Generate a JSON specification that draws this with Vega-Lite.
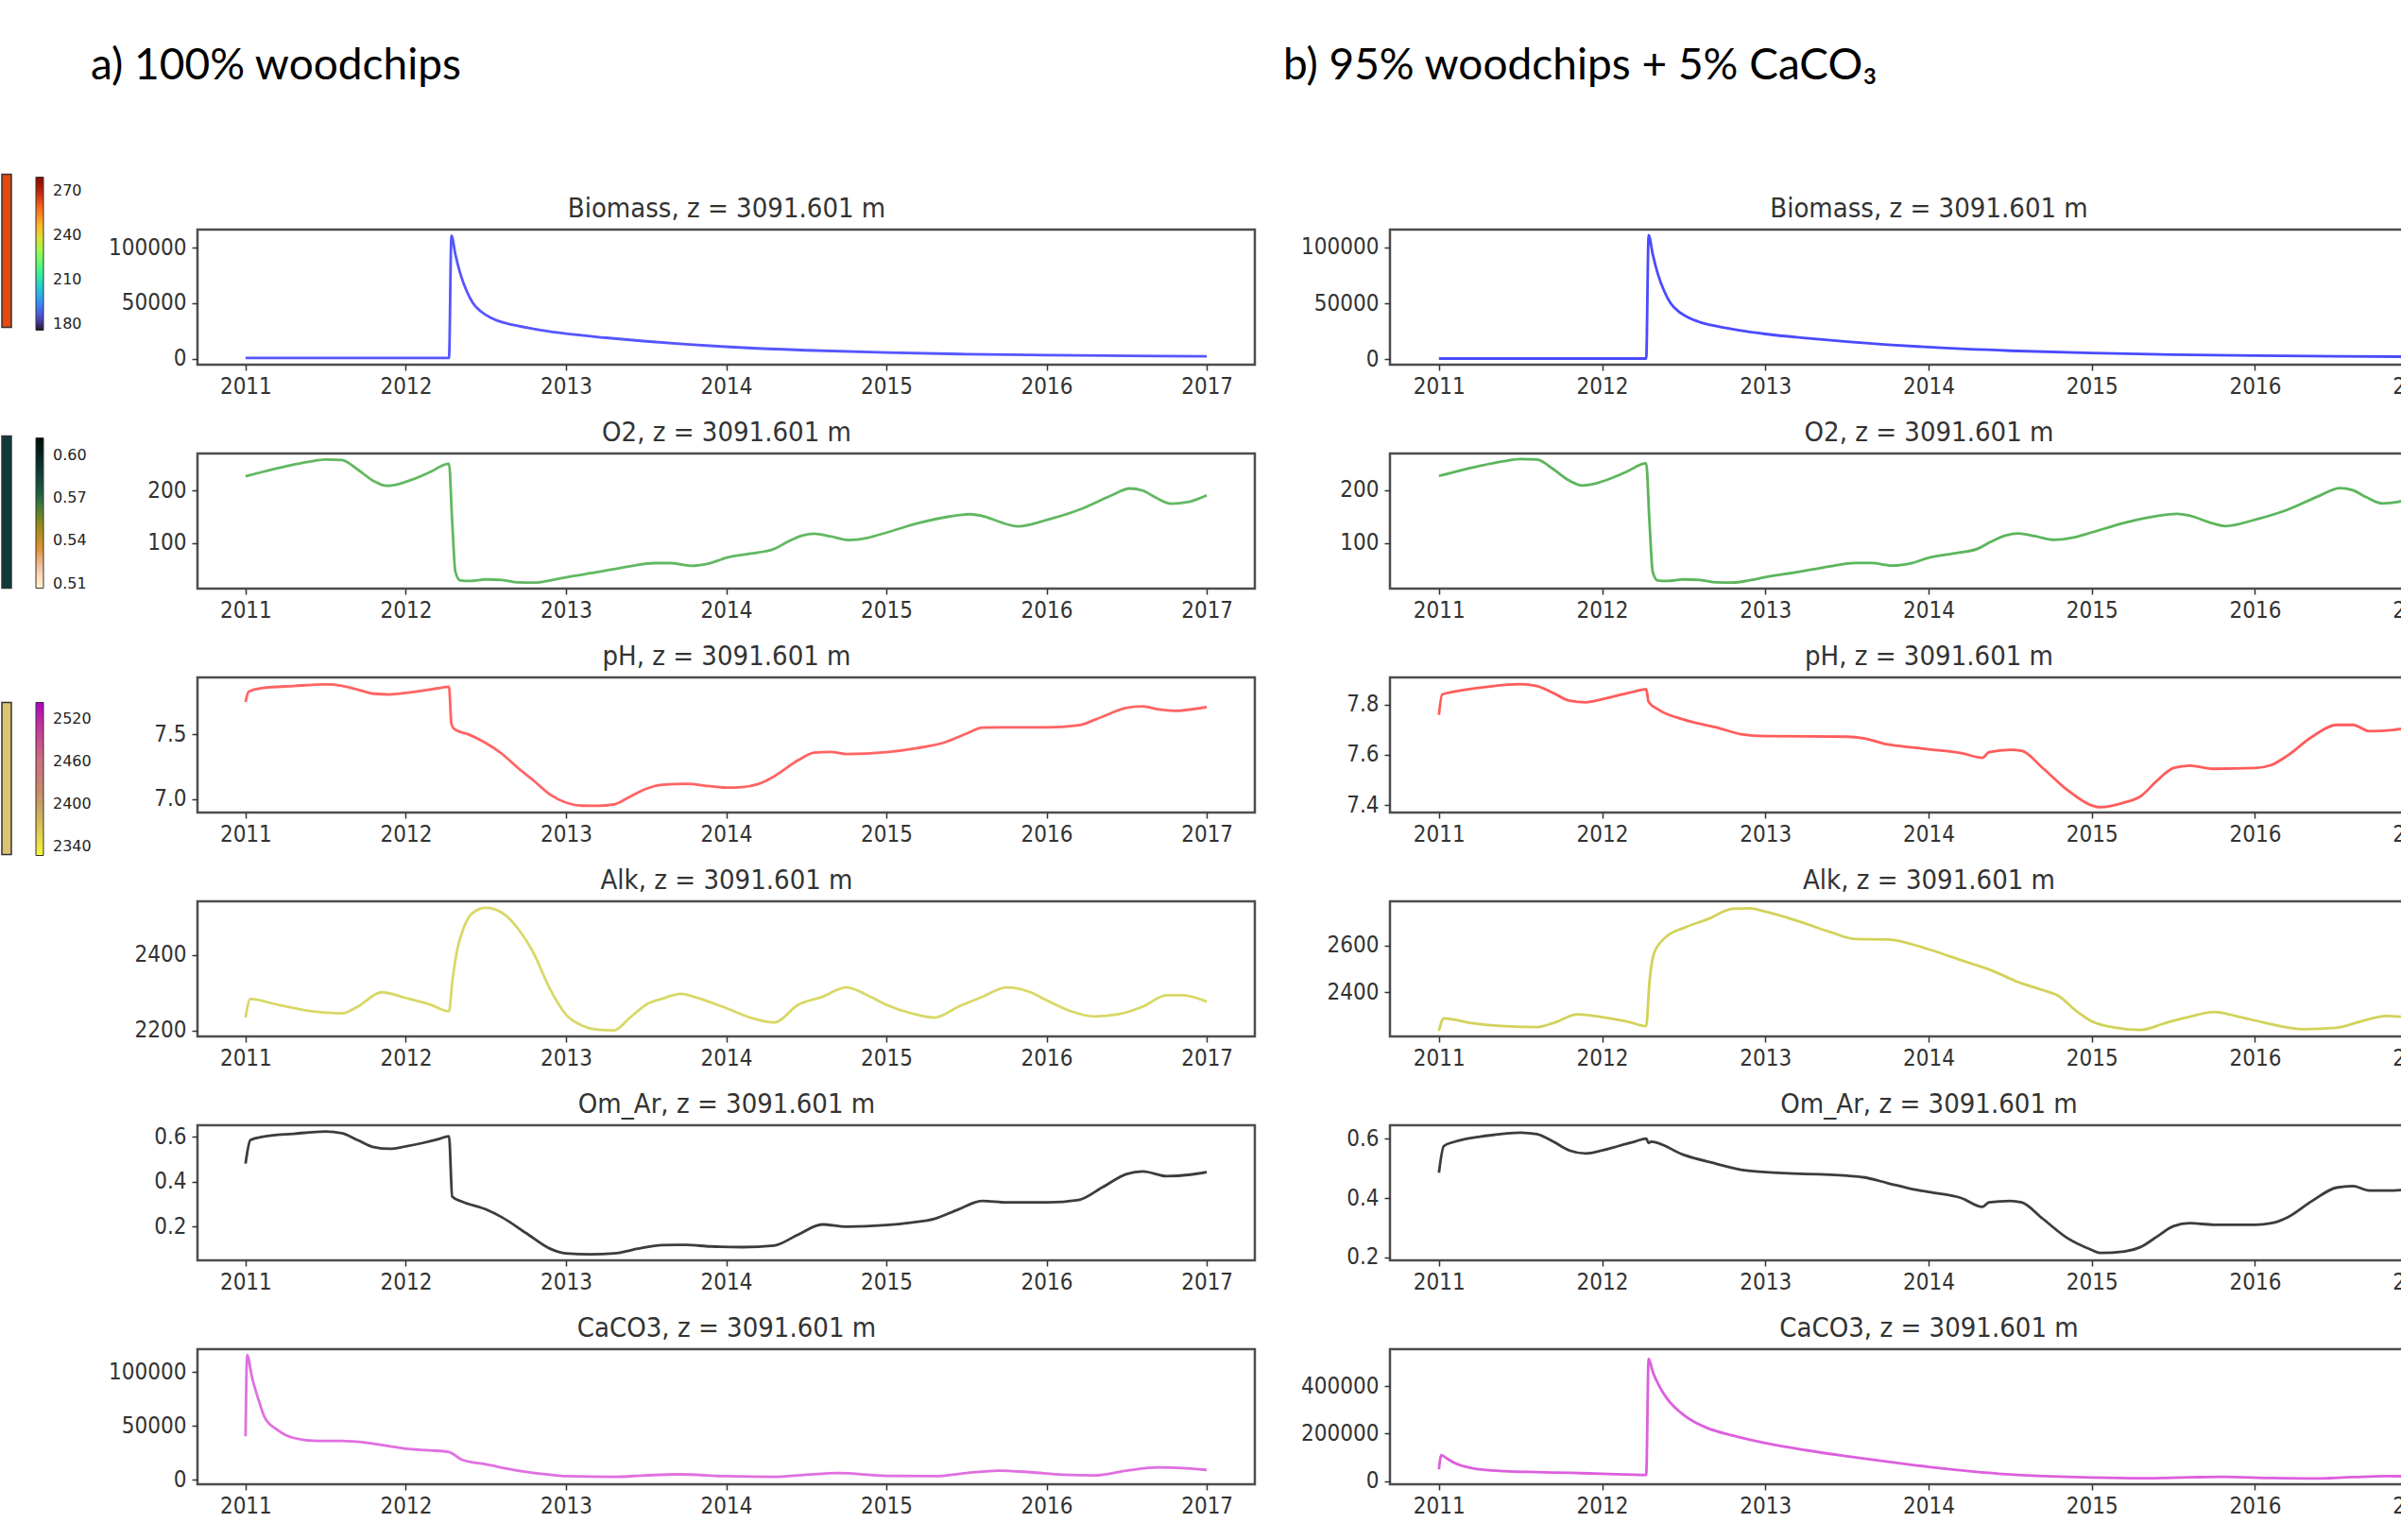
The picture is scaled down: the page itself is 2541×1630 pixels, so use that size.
{
"$schema": "https://vega.github.io/schema/vega-lite/v6.json",
"padding": {"left": 0, "top": 45, "right": 0, "bottom": 0},
"background": "white",
"columns": 2,
"spacing": {"row": 94, "column": 122},
"bounds": "flush",
"align": "all",
"config": {
  "view": {"stroke": "#4d4d4d", "strokeWidth": 2.5},
  "axis": {"labelFont": "DejaVu Sans Condensed, Liberation Sans", "labelFontSize": 24, "labelColor": "#333333", "tickColor": "#333333", "tickSize": 6, "tickWidth": 1.5, "domain": false, "grid": false, "labelPadding": 5},
  "axisX": {"titleFont": "DejaVu Sans Condensed, Liberation Sans", "titleFontSize": 29, "titleFontWeight": "normal", "titleColor": "#333333", "titleY": -157, "titleBaseline": "alphabetic"},
  "axisY": {"labelPadding": 6},
  "title": {"fontWeight": "normal", "anchor": "start", "frame": "group", "baseline": "alphabetic", "dx": -113, "offset": 112, "font": "Lato, DejaVu Sans", "fontSize": 46, "color": "#000000"},
  "line": {"strokeWidth": 2.8, "interpolate": "monotone"}
},
"datasets": {
  "bio": [{"t":2011.0,"v":500},{"t":2012.27,"v":500},{"t":2012.285,"v":111000},{"t":2012.31,"v":94000},{"t":2012.34,"v":77000},{"t":2012.38,"v":61000},{"t":2012.42,"v":50000},{"t":2012.47,"v":42500},{"t":2012.53,"v":37000},{"t":2012.6,"v":33000},{"t":2012.7,"v":29500},{"t":2012.85,"v":25500},{"t":2013.0,"v":22500},{"t":2013.25,"v":18800},{"t":2013.5,"v":15600},{"t":2013.75,"v":12900},{"t":2014.0,"v":10700},{"t":2014.5,"v":7500},{"t":2015.0,"v":5400},{"t":2015.5,"v":4000},{"t":2016.0,"v":3100},{"t":2016.5,"v":2500},{"t":2017.0,"v":2100}],
  "o2": [{"t":2011.0,"v":227},{"t":2011.1,"v":235},{"t":2011.25,"v":246},{"t":2011.4,"v":255},{"t":2011.5,"v":259},{"t":2011.6,"v":258},{"t":2011.7,"v":240},{"t":2011.8,"v":218},{"t":2011.88,"v":209},{"t":2011.95,"v":212},{"t":2012.05,"v":222},{"t":2012.15,"v":235},{"t":2012.27,"v":251},{"t":2012.29,"v":140},{"t":2012.31,"v":45},{"t":2012.34,"v":29},{"t":2012.4,"v":28},{"t":2012.5,"v":31},{"t":2012.6,"v":30},{"t":2012.7,"v":25.5},{"t":2012.8,"v":25},{"t":2012.9,"v":29},{"t":2013.0,"v":35},{"t":2013.2,"v":45},{"t":2013.4,"v":56},{"t":2013.55,"v":62},{"t":2013.65,"v":62},{"t":2013.78,"v":57},{"t":2013.9,"v":62},{"t":2014.0,"v":72},{"t":2014.15,"v":80},{"t":2014.3,"v":89},{"t":2014.38,"v":102},{"t":2014.47,"v":114},{"t":2014.55,"v":118},{"t":2014.65,"v":113},{"t":2014.77,"v":106},{"t":2014.88,"v":110},{"t":2015.0,"v":120},{"t":2015.2,"v":138},{"t":2015.4,"v":151},{"t":2015.52,"v":155},{"t":2015.62,"v":150},{"t":2015.72,"v":139},{"t":2015.82,"v":132},{"t":2016.0,"v":144},{"t":2016.2,"v":163},{"t":2016.4,"v":190},{"t":2016.52,"v":204},{"t":2016.6,"v":200},{"t":2016.68,"v":187},{"t":2016.78,"v":175},{"t":2016.88,"v":178},{"t":2017.0,"v":191}],
  "ph_a": [{"t":2011.0,"v":7.75},{"t":2011.02,"v":7.83},{"t":2011.1,"v":7.857},{"t":2011.3,"v":7.874},{"t":2011.5,"v":7.886},{"t":2011.6,"v":7.876},{"t":2011.7,"v":7.846},{"t":2011.8,"v":7.814},{"t":2011.9,"v":7.808},{"t":2012.0,"v":7.82},{"t":2012.1,"v":7.837},{"t":2012.2,"v":7.856},{"t":2012.27,"v":7.868},{"t":2012.285,"v":7.58},{"t":2012.3,"v":7.545},{"t":2012.4,"v":7.495},{"t":2012.5,"v":7.432},{"t":2012.6,"v":7.35},{"t":2012.7,"v":7.24},{"t":2012.8,"v":7.14},{"t":2012.9,"v":7.035},{"t":2013.0,"v":6.972},{"t":2013.1,"v":6.948},{"t":2013.2,"v":6.947},{"t":2013.3,"v":6.958},{"t":2013.4,"v":7.018},{"t":2013.5,"v":7.078},{"t":2013.6,"v":7.11},{"t":2013.75,"v":7.117},{"t":2013.9,"v":7.098},{"t":2014.0,"v":7.088},{"t":2014.1,"v":7.092},{"t":2014.2,"v":7.115},{"t":2014.3,"v":7.175},{"t":2014.45,"v":7.3},{"t":2014.55,"v":7.358},{"t":2014.65,"v":7.364},{"t":2014.75,"v":7.347},{"t":2015.0,"v":7.362},{"t":2015.2,"v":7.395},{"t":2015.35,"v":7.432},{"t":2015.5,"v":7.505},{"t":2015.6,"v":7.552},{"t":2015.7,"v":7.554},{"t":2016.0,"v":7.553},{"t":2016.2,"v":7.57},{"t":2016.35,"v":7.637},{"t":2016.5,"v":7.705},{"t":2016.6,"v":7.716},{"t":2016.7,"v":7.692},{"t":2016.8,"v":7.682},{"t":2017.0,"v":7.711}],
  "ph_b": [{"t":2011.0,"v":7.759},{"t":2011.02,"v":7.84},{"t":2011.1,"v":7.852},{"t":2011.3,"v":7.871},{"t":2011.5,"v":7.881},{"t":2011.6,"v":7.874},{"t":2011.7,"v":7.846},{"t":2011.8,"v":7.815},{"t":2011.9,"v":7.809},{"t":2012.0,"v":7.821},{"t":2012.1,"v":7.837},{"t":2012.2,"v":7.852},{"t":2012.27,"v":7.861},{"t":2012.285,"v":7.81},{"t":2012.35,"v":7.778},{"t":2012.5,"v":7.74},{"t":2012.7,"v":7.709},{"t":2012.85,"v":7.682},{"t":2013.0,"v":7.674},{"t":2013.5,"v":7.672},{"t":2013.6,"v":7.666},{"t":2013.75,"v":7.641},{"t":2013.9,"v":7.629},{"t":2014.0,"v":7.622},{"t":2014.2,"v":7.607},{"t":2014.33,"v":7.588},{"t":2014.37,"v":7.61},{"t":2014.5,"v":7.62},{"t":2014.57,"v":7.616},{"t":2014.7,"v":7.547},{"t":2014.85,"v":7.46},{"t":2015.0,"v":7.398},{"t":2015.05,"v":7.391},{"t":2015.2,"v":7.41},{"t":2015.3,"v":7.435},{"t":2015.4,"v":7.497},{"t":2015.5,"v":7.547},{"t":2015.6,"v":7.557},{"t":2015.75,"v":7.544},{"t":2016.0,"v":7.547},{"t":2016.1,"v":7.559},{"t":2016.2,"v":7.597},{"t":2016.35,"v":7.672},{"t":2016.5,"v":7.719},{"t":2016.6,"v":7.719},{"t":2016.7,"v":7.694},{"t":2016.85,"v":7.699},{"t":2017.0,"v":7.715}],
  "alk_a": [{"t":2011.0,"v":2234},{"t":2011.03,"v":2283},{"t":2011.2,"v":2268},{"t":2011.4,"v":2251},{"t":2011.6,"v":2245},{"t":2011.7,"v":2263},{"t":2011.85,"v":2301},{"t":2012.0,"v":2286},{"t":2012.15,"v":2269},{"t":2012.27,"v":2251},{"t":2012.29,"v":2327},{"t":2012.32,"v":2411},{"t":2012.36,"v":2470},{"t":2012.42,"v":2512},{"t":2012.5,"v":2525},{"t":2012.6,"v":2512},{"t":2012.7,"v":2470},{"t":2012.8,"v":2403},{"t":2012.9,"v":2310},{"t":2013.0,"v":2242},{"t":2013.1,"v":2213},{"t":2013.2,"v":2202},{"t":2013.3,"v":2200},{"t":2013.4,"v":2234},{"t":2013.5,"v":2268},{"t":2013.6,"v":2284},{"t":2013.72,"v":2297},{"t":2013.8,"v":2289},{"t":2014.0,"v":2259},{"t":2014.15,"v":2234},{"t":2014.3,"v":2221},{"t":2014.45,"v":2268},{"t":2014.6,"v":2289},{"t":2014.75,"v":2314},{"t":2014.9,"v":2289},{"t":2015.0,"v":2268},{"t":2015.15,"v":2246},{"t":2015.3,"v":2234},{"t":2015.45,"v":2263},{"t":2015.6,"v":2289},{"t":2015.75,"v":2314},{"t":2015.9,"v":2301},{"t":2016.0,"v":2280},{"t":2016.15,"v":2251},{"t":2016.3,"v":2237},{"t":2016.45,"v":2243},{"t":2016.6,"v":2263},{"t":2016.75,"v":2293},{"t":2016.85,"v":2293},{"t":2017.0,"v":2276}],
  "alk_b": [{"t":2011.0,"v":2236},{"t":2011.03,"v":2289},{"t":2011.2,"v":2269},{"t":2011.4,"v":2256},{"t":2011.6,"v":2252},{"t":2011.7,"v":2269},{"t":2011.85,"v":2306},{"t":2012.0,"v":2294},{"t":2012.15,"v":2276},{"t":2012.27,"v":2256},{"t":2012.29,"v":2443},{"t":2012.32,"v":2570},{"t":2012.4,"v":2640},{"t":2012.5,"v":2674},{"t":2012.65,"v":2712},{"t":2012.8,"v":2755},{"t":2012.9,"v":2757},{"t":2013.0,"v":2743},{"t":2013.2,"v":2703},{"t":2013.4,"v":2656},{"t":2013.55,"v":2627},{"t":2013.75,"v":2625},{"t":2014.0,"v":2583},{"t":2014.2,"v":2536},{"t":2014.4,"v":2489},{"t":2014.55,"v":2443},{"t":2014.7,"v":2409},{"t":2014.8,"v":2383},{"t":2014.9,"v":2323},{"t":2015.0,"v":2276},{"t":2015.15,"v":2249},{"t":2015.3,"v":2240},{"t":2015.45,"v":2269},{"t":2015.6,"v":2296},{"t":2015.75,"v":2316},{"t":2015.9,"v":2296},{"t":2016.05,"v":2272},{"t":2016.3,"v":2243},{"t":2016.5,"v":2249},{"t":2016.65,"v":2276},{"t":2016.8,"v":2299},{"t":2016.9,"v":2296},{"t":2017.0,"v":2289}],
  "om_a": [{"t":2011.0,"v":0.481},{"t":2011.03,"v":0.586},{"t":2011.1,"v":0.6},{"t":2011.3,"v":0.614},{"t":2011.5,"v":0.624},{"t":2011.6,"v":0.617},{"t":2011.7,"v":0.586},{"t":2011.8,"v":0.555},{"t":2011.9,"v":0.547},{"t":2012.0,"v":0.558},{"t":2012.1,"v":0.572},{"t":2012.2,"v":0.589},{"t":2012.27,"v":0.603},{"t":2012.29,"v":0.334},{"t":2012.35,"v":0.312},{"t":2012.5,"v":0.277},{"t":2012.6,"v":0.242},{"t":2012.75,"v":0.172},{"t":2012.9,"v":0.102},{"t":2013.0,"v":0.081},{"t":2013.15,"v":0.077},{"t":2013.3,"v":0.081},{"t":2013.45,"v":0.102},{"t":2013.6,"v":0.118},{"t":2013.75,"v":0.119},{"t":2013.9,"v":0.112},{"t":2014.1,"v":0.109},{"t":2014.3,"v":0.116},{"t":2014.45,"v":0.165},{"t":2014.6,"v":0.21},{"t":2014.75,"v":0.2},{"t":2015.0,"v":0.207},{"t":2015.15,"v":0.218},{"t":2015.3,"v":0.235},{"t":2015.45,"v":0.277},{"t":2015.6,"v":0.315},{"t":2015.75,"v":0.308},{"t":2016.0,"v":0.308},{"t":2016.2,"v":0.319},{"t":2016.35,"v":0.376},{"t":2016.5,"v":0.435},{"t":2016.6,"v":0.446},{"t":2016.75,"v":0.425},{"t":2016.9,"v":0.432},{"t":2017.0,"v":0.443}],
  "om_b": [{"t":2011.0,"v":0.485},{"t":2011.03,"v":0.575},{"t":2011.1,"v":0.59},{"t":2011.3,"v":0.61},{"t":2011.5,"v":0.62},{"t":2011.6,"v":0.615},{"t":2011.7,"v":0.59},{"t":2011.8,"v":0.56},{"t":2011.9,"v":0.55},{"t":2012.0,"v":0.56},{"t":2012.1,"v":0.575},{"t":2012.2,"v":0.59},{"t":2012.27,"v":0.6},{"t":2012.285,"v":0.585},{"t":2012.3,"v":0.59},{"t":2012.5,"v":0.545},{"t":2012.7,"v":0.515},{"t":2012.85,"v":0.495},{"t":2013.0,"v":0.487},{"t":2013.5,"v":0.475},{"t":2013.6,"v":0.47},{"t":2013.75,"v":0.45},{"t":2013.9,"v":0.43},{"t":2014.0,"v":0.42},{"t":2014.2,"v":0.4},{"t":2014.33,"v":0.37},{"t":2014.37,"v":0.385},{"t":2014.5,"v":0.39},{"t":2014.57,"v":0.385},{"t":2014.7,"v":0.33},{"t":2014.85,"v":0.265},{"t":2015.0,"v":0.225},{"t":2015.05,"v":0.215},{"t":2015.2,"v":0.22},{"t":2015.3,"v":0.235},{"t":2015.4,"v":0.27},{"t":2015.5,"v":0.305},{"t":2015.6,"v":0.315},{"t":2015.75,"v":0.31},{"t":2016.0,"v":0.31},{"t":2016.1,"v":0.315},{"t":2016.2,"v":0.335},{"t":2016.35,"v":0.39},{"t":2016.5,"v":0.435},{"t":2016.6,"v":0.44},{"t":2016.7,"v":0.425},{"t":2016.85,"v":0.425},{"t":2017.0,"v":0.435}],
  "ca_a": [{"t":2011.0,"v":40600},{"t":2011.01,"v":116000},{"t":2011.04,"v":95600},{"t":2011.08,"v":75000},{"t":2011.12,"v":58000},{"t":2011.2,"v":46400},{"t":2011.3,"v":39000},{"t":2011.45,"v":36200},{"t":2011.6,"v":36200},{"t":2011.75,"v":34800},{"t":2011.9,"v":31300},{"t":2012.0,"v":29000},{"t":2012.15,"v":27500},{"t":2012.27,"v":26000},{"t":2012.35,"v":18800},{"t":2012.5,"v":14500},{"t":2012.7,"v":8700},{"t":2012.9,"v":4900},{"t":2013.0,"v":3500},{"t":2013.3,"v":2900},{"t":2013.5,"v":4300},{"t":2013.7,"v":5200},{"t":2014.0,"v":3500},{"t":2014.3,"v":2900},{"t":2014.5,"v":4900},{"t":2014.7,"v":6400},{"t":2015.0,"v":3800},{"t":2015.3,"v":3500},{"t":2015.5,"v":6400},{"t":2015.7,"v":8700},{"t":2015.9,"v":7200},{"t":2016.1,"v":4900},{"t":2016.3,"v":4300},{"t":2016.5,"v":8700},{"t":2016.7,"v":11600},{"t":2016.85,"v":11000},{"t":2017.0,"v":9300}],
  "ca_b": [{"t":2011.0,"v":50000},{"t":2011.015,"v":110000},{"t":2011.05,"v":95000},{"t":2011.1,"v":75000},{"t":2011.2,"v":55000},{"t":2011.4,"v":42000},{"t":2011.6,"v":38000},{"t":2011.8,"v":35000},{"t":2012.0,"v":31000},{"t":2012.27,"v":26000},{"t":2012.285,"v":515000},{"t":2012.31,"v":460000},{"t":2012.35,"v":400000},{"t":2012.4,"v":345000},{"t":2012.47,"v":295000},{"t":2012.55,"v":255000},{"t":2012.65,"v":222000},{"t":2012.8,"v":192000},{"t":2013.0,"v":160000},{"t":2013.25,"v":130000},{"t":2013.5,"v":105000},{"t":2013.75,"v":82000},{"t":2014.0,"v":60000},{"t":2014.25,"v":42000},{"t":2014.5,"v":28000},{"t":2014.75,"v":20000},{"t":2015.0,"v":15000},{"t":2015.3,"v":12000},{"t":2015.6,"v":16000},{"t":2015.8,"v":18000},{"t":2016.1,"v":13000},{"t":2016.35,"v":11000},{"t":2016.6,"v":17000},{"t":2016.8,"v":21000},{"t":2017.0,"v":20000}],
  "cbar": [{"f1": 0.5, "c1": 200, "f2": 0.5, "c2": 0.55, "f3": 0.5, "c3": 2400}]
},
"concat": [
  {
    "width": 1119, "height": 143, "title": "a) 100% woodchips", "data": {"name": "bio"},
    "mark": {"type": "line", "color": "#5656ff"},
    "encoding": {
      "x": {"field": "t", "type": "quantitative", "scale": {"domain": [2010.7, 2017.3], "nice": false, "zero": false}, "axis": {"values": [2011, 2012, 2013, 2014, 2015, 2016, 2017], "format": "d", "title": "Biomass, z = 3091.601 m"}},
      "y": {"field": "v", "type": "quantitative", "scale": {"domain": [-5500, 116500], "nice": false, "zero": false}, "axis": {"values": [0, 50000, 100000], "format": "d", "title": null}}
    }
  },
  {
    "width": 1140, "height": 143, "title": "b) 95% woodchips + 5% CaCO₃", "data": {"name": "bio"},
    "mark": {"type": "line", "color": "#4a4aff"},
    "encoding": {
      "x": {"field": "t", "type": "quantitative", "scale": {"domain": [2010.7, 2017.3], "nice": false, "zero": false}, "axis": {"values": [2011, 2012, 2013, 2014, 2015, 2016, 2017], "format": "d", "title": "Biomass, z = 3091.601 m"}},
      "y": {"field": "v", "type": "quantitative", "scale": {"domain": [-5000, 116000], "nice": false, "zero": false}, "axis": {"values": [0, 50000, 100000], "format": "d", "title": null}}
    }
  },
  {
    "width": 1119, "height": 143,
    "layer": [
      {"data": {"name": "o2"}, "mark": {"type": "line", "color": "#62b862"},
       "encoding": {
        "x": {"field": "t", "type": "quantitative", "scale": {"domain": [2010.7, 2017.3], "nice": false, "zero": false}, "axis": {"values": [2011, 2012, 2013, 2014, 2015, 2016, 2017], "format": "d", "title": "O2, z = 3091.601 m"}},
        "y": {"field": "v", "type": "quantitative", "scale": {"domain": [13.5, 270.5], "nice": false, "zero": false}, "axis": {"values": [100, 200], "format": "d", "title": null}}
       }},
      {"data": {"name": "cbar"}, "mark": {"type": "point", "opacity": 0, "filled": true}, "encoding": {"fill": {"field": "f1", "type": "quantitative", "scale": {"domain": [0, 1], "range": ["#e5490f", "#e5490f"]}, "legend": {"orient": "none", "legendX": -207, "legendY": -295.5, "direction": "vertical", "gradientLength": 162, "gradientThickness": 10, "gradientStrokeColor": "#333333", "gradientStrokeWidth": 1.5, "title": null, "labelExpr": "''", "padding": 0}}}},
      {"data": {"name": "cbar"}, "mark": {"type": "point", "opacity": 0, "filled": true}, "encoding": {"fill": {"field": "c1", "type": "quantitative", "scale": {"domain": [176, 279], "scheme": "turbo"}, "legend": {"orient": "none", "legendX": -171, "legendY": -292.5, "direction": "vertical", "gradientLength": 162, "gradientThickness": 8, "gradientStrokeColor": "#333333", "gradientStrokeWidth": 1, "title": null, "values": [180, 210, 240, 270], "format": "d", "labelFont": "DejaVu Sans", "labelFontSize": 16, "labelColor": "#222222", "labelOffset": 10, "labelOverlap": false, "padding": 0}}}},
      {"data": {"name": "cbar"}, "mark": {"type": "point", "opacity": 0, "filled": true}, "encoding": {"fill": {"field": "f2", "type": "quantitative", "scale": {"domain": [0, 1], "range": ["#0e3b3b", "#0e3b3b"]}, "legend": {"orient": "none", "legendX": -207, "legendY": -18.5, "direction": "vertical", "gradientLength": 161, "gradientThickness": 10, "gradientStrokeColor": "#333333", "gradientStrokeWidth": 1.5, "title": null, "labelExpr": "''", "padding": 0}}}},
      {"data": {"name": "cbar"}, "mark": {"type": "point", "opacity": 0, "filled": true}, "encoding": {"fill": {"field": "c2", "type": "quantitative", "scale": {"domain": [0.5068, 0.52, 0.535, 0.55, 0.565, 0.58, 0.595, 0.612], "range": ["#ffffff", "#f2c9a6", "#e09030", "#a08a18", "#3d7a38", "#164d40", "#0a2e2a", "#000000"]}, "legend": {"orient": "none", "legendX": -171, "legendY": -16.5, "direction": "vertical", "gradientLength": 159, "gradientThickness": 8, "gradientStrokeColor": "#333333", "gradientStrokeWidth": 1, "title": null, "values": [0.51, 0.54, 0.57, 0.6], "format": ".2f", "labelFont": "DejaVu Sans", "labelFontSize": 16, "labelColor": "#222222", "labelOffset": 10, "labelOverlap": false, "padding": 0}}}},
      {"data": {"name": "cbar"}, "mark": {"type": "point", "opacity": 0, "filled": true}, "encoding": {"fill": {"field": "f3", "type": "quantitative", "scale": {"domain": [0, 1], "range": ["#dcc272", "#dcc272"]}, "legend": {"orient": "none", "legendX": -207, "legendY": 263.5, "direction": "vertical", "gradientLength": 161, "gradientThickness": 10, "gradientStrokeColor": "#333333", "gradientStrokeWidth": 1.5, "title": null, "labelExpr": "''", "padding": 0}}}},
      {"data": {"name": "cbar"}, "mark": {"type": "point", "opacity": 0, "filled": true}, "encoding": {"fill": {"field": "c3", "type": "quantitative", "scale": {"domain": [2327, 2370, 2400, 2430, 2460, 2500, 2544], "range": ["#f5f53a", "#d8c050", "#c8a060", "#c88070", "#d07080", "#c84098", "#b000c0"]}, "legend": {"orient": "none", "legendX": -171, "legendY": 263.5, "direction": "vertical", "gradientLength": 162, "gradientThickness": 8, "gradientStrokeColor": "#333333", "gradientStrokeWidth": 1, "title": null, "values": [2340, 2400, 2460, 2520], "format": "d", "labelFont": "DejaVu Sans", "labelFontSize": 16, "labelColor": "#222222", "labelOffset": 10, "labelOverlap": false, "padding": 0}}}}
    ],
    "resolve": {"scale": {"fill": "independent"}, "legend": {"fill": "independent"}}
  },
  {
    "width": 1140, "height": 143, "data": {"name": "o2"},
    "mark": {"type": "line", "color": "#5cb55c"},
    "encoding": {
      "x": {"field": "t", "type": "quantitative", "scale": {"domain": [2010.7, 2017.3], "nice": false, "zero": false}, "axis": {"values": [2011, 2012, 2013, 2014, 2015, 2016, 2017], "format": "d", "title": "O2, z = 3091.601 m"}},
      "y": {"field": "v", "type": "quantitative", "scale": {"domain": [13.5, 269.5], "nice": false, "zero": false}, "axis": {"values": [100, 200], "format": "d", "title": null}}
    }
  },
  {
    "width": 1119, "height": 143, "data": {"name": "ph_a"},
    "mark": {"type": "line", "color": "#ff6464"},
    "encoding": {
      "x": {"field": "t", "type": "quantitative", "scale": {"domain": [2010.7, 2017.3], "nice": false, "zero": false}, "axis": {"values": [2011, 2012, 2013, 2014, 2015, 2016, 2017], "format": "d", "title": "pH, z = 3091.601 m"}},
      "y": {"field": "v", "type": "quantitative", "scale": {"domain": [6.895, 7.94], "nice": false, "zero": false}, "axis": {"values": [7.0, 7.5], "format": ".1f", "title": null}}
    }
  },
  {
    "width": 1140, "height": 143, "data": {"name": "ph_b"},
    "mark": {"type": "line", "color": "#ff5c5c"},
    "encoding": {
      "x": {"field": "t", "type": "quantitative", "scale": {"domain": [2010.7, 2017.3], "nice": false, "zero": false}, "axis": {"values": [2011, 2012, 2013, 2014, 2015, 2016, 2017], "format": "d", "title": "pH, z = 3091.601 m"}},
      "y": {"field": "v", "type": "quantitative", "scale": {"domain": [7.37, 7.908], "nice": false, "zero": false}, "axis": {"values": [7.4, 7.6, 7.8], "format": ".1f", "title": null}}
    }
  },
  {
    "width": 1119, "height": 143, "data": {"name": "alk_a"},
    "mark": {"type": "line", "color": "#d8d868"},
    "encoding": {
      "x": {"field": "t", "type": "quantitative", "scale": {"domain": [2010.7, 2017.3], "nice": false, "zero": false}, "axis": {"values": [2011, 2012, 2013, 2014, 2015, 2016, 2017], "format": "d", "title": "Alk, z = 3091.601 m"}},
      "y": {"field": "v", "type": "quantitative", "scale": {"domain": [2184, 2542], "nice": false, "zero": false}, "axis": {"values": [2200, 2400], "format": "d", "title": null}}
    }
  },
  {
    "width": 1140, "height": 143, "data": {"name": "alk_b"},
    "mark": {"type": "line", "color": "#d2d25a"},
    "encoding": {
      "x": {"field": "t", "type": "quantitative", "scale": {"domain": [2010.7, 2017.3], "nice": false, "zero": false}, "axis": {"values": [2011, 2012, 2013, 2014, 2015, 2016, 2017], "format": "d", "title": "Alk, z = 3091.601 m"}},
      "y": {"field": "v", "type": "quantitative", "scale": {"domain": [2212, 2787], "nice": false, "zero": false}, "axis": {"values": [2400, 2600], "format": "d", "title": null}}
    }
  },
  {
    "width": 1119, "height": 143, "data": {"name": "om_a"},
    "mark": {"type": "line", "color": "#3c3c3c"},
    "encoding": {
      "x": {"field": "t", "type": "quantitative", "scale": {"domain": [2010.7, 2017.3], "nice": false, "zero": false}, "axis": {"values": [2011, 2012, 2013, 2014, 2015, 2016, 2017], "format": "d", "title": "Om_Ar, z = 3091.601 m"}},
      "y": {"field": "v", "type": "quantitative", "scale": {"domain": [0.05, 0.652], "nice": false, "zero": false}, "axis": {"values": [0.2, 0.4, 0.6], "format": ".1f", "title": null}}
    }
  },
  {
    "width": 1140, "height": 143, "data": {"name": "om_b"},
    "mark": {"type": "line", "color": "#3c3c3c"},
    "encoding": {
      "x": {"field": "t", "type": "quantitative", "scale": {"domain": [2010.7, 2017.3], "nice": false, "zero": false}, "axis": {"values": [2011, 2012, 2013, 2014, 2015, 2016, 2017], "format": "d", "title": "Om_Ar, z = 3091.601 m"}},
      "y": {"field": "v", "type": "quantitative", "scale": {"domain": [0.19, 0.645], "nice": false, "zero": false}, "axis": {"values": [0.2, 0.4, 0.6], "format": ".1f", "title": null}}
    }
  },
  {
    "width": 1119, "height": 143, "data": {"name": "ca_a"},
    "mark": {"type": "line", "color": "#e070e0"},
    "encoding": {
      "x": {"field": "t", "type": "quantitative", "scale": {"domain": [2010.7, 2017.3], "nice": false, "zero": false}, "axis": {"values": [2011, 2012, 2013, 2014, 2015, 2016, 2017], "format": "d", "title": "CaCO3, z = 3091.601 m"}},
      "y": {"field": "v", "type": "quantitative", "scale": {"domain": [-4000, 121500], "nice": false, "zero": false}, "axis": {"values": [0, 50000, 100000], "format": "d", "title": null}}
    }
  },
  {
    "width": 1140, "height": 143, "data": {"name": "ca_b"},
    "mark": {"type": "line", "color": "#dd5fdd"},
    "encoding": {
      "x": {"field": "t", "type": "quantitative", "scale": {"domain": [2010.7, 2017.3], "nice": false, "zero": false}, "axis": {"values": [2011, 2012, 2013, 2014, 2015, 2016, 2017], "format": "d", "title": "CaCO3, z = 3091.601 m"}},
      "y": {"field": "v", "type": "quantitative", "scale": {"domain": [-13000, 555000], "nice": false, "zero": false}, "axis": {"values": [0, 200000, 400000], "format": "d", "title": null}}
    }
  }
]
}
